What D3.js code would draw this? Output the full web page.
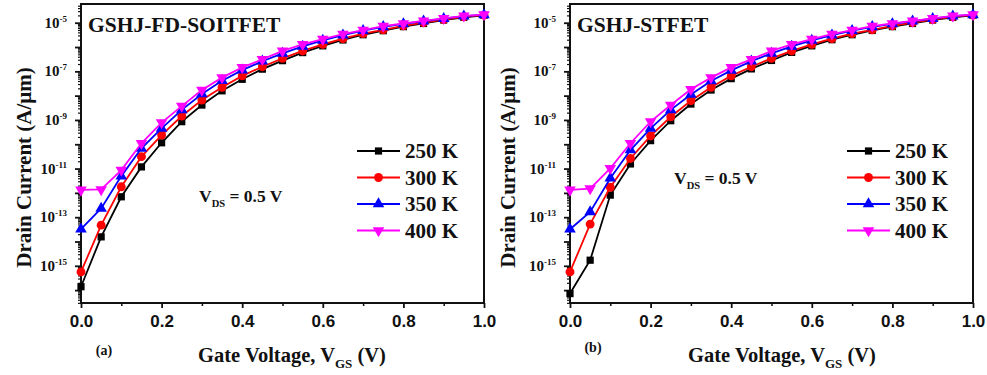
<!DOCTYPE html>
<html>
<head>
<meta charset="utf-8">
<script src="https://cdn.jsdelivr.net/npm/d3@7"></script>
<style>
  body { margin: 0; background: #fff; }
</style>
</head>
<body>
<svg id="chart" width="987" height="375" font-family="'Liberation Serif', 'Times New Roman', Times, 'DejaVu Serif', serif" font-weight="bold"></svg>
<script>
// Gate voltage sweep (V)
const gateVoltage = [0.00, 0.05, 0.10, 0.15, 0.20, 0.25, 0.30, 0.35, 0.40, 0.45, 0.50,
                     0.55, 0.60, 0.65, 0.70, 0.75, 0.80, 0.85, 0.90, 0.95, 1.00];
const temperatures = ["250 K", "300 K", "350 K", "400 K"];

// Drain current (A/um), GSHJ-FD-SOITFET
const soi250 = [1.38e-16, 1.55e-14, 6.9e-13, 1.17e-11, 1.15e-10, 8.5e-10, 4.1e-9, 1.58e-8, 4.7e-8, 1.23e-7, 2.75e-7,
                5.9e-7, 1.12e-6, 1.95e-6, 3.2e-6, 4.7e-6, 6.9e-6, 9.3e-6, 1.29e-5, 1.66e-5, 2.0e-5];
const soi300 = [5.6e-16, 4.7e-14, 1.78e-12, 3.1e-11, 2.4e-10, 1.45e-9, 6.6e-9, 2.2e-8, 6.5e-8, 1.55e-7, 3.4e-7,
                6.9e-7, 1.29e-6, 2.2e-6, 3.55e-6, 5.1e-6, 7.4e-6, 1.0e-5, 1.35e-5, 1.74e-5, 2.04e-5];
const soi350 = [3.2e-14, 2.3e-13, 4.9e-12, 6.8e-11, 4.5e-10, 2.6e-9, 1.17e-8, 4.1e-8, 1.12e-7, 2.6e-7, 5.5e-7,
                1.07e-6, 1.86e-6, 3.1e-6, 4.7e-6, 6.8e-6, 8.9e-6, 1.15e-5, 1.48e-5, 1.86e-5, 2.1e-5];
const soi400 = [1.32e-12, 1.38e-12, 8.7e-12, 1.1e-10, 7.8e-10, 3.7e-9, 1.7e-8, 5.5e-8, 1.45e-7, 3.1e-7, 6.9e-7,
                1.29e-6, 2.1e-6, 3.4e-6, 5.0e-6, 7.2e-6, 9.3e-6, 1.2e-5, 1.51e-5, 1.9e-5, 2.14e-5];

// Drain current (A/um), GSHJ-STFET
const st250 = [7.2e-17, 1.7e-15, 8.1e-13, 1.55e-11, 1.41e-10, 9.3e-10, 4.5e-9, 1.7e-8, 5.0e-8, 1.26e-7, 2.8e-7,
               6.0e-7, 1.12e-6, 2.0e-6, 3.2e-6, 4.8e-6, 6.9e-6, 9.3e-6, 1.29e-5, 1.66e-5, 2.0e-5];
const st300 = [5.6e-16, 5.2e-14, 1.7e-12, 2.6e-11, 2.2e-10, 1.35e-9, 6.2e-9, 2.2e-8, 6.5e-8, 1.55e-7, 3.4e-7,
               6.9e-7, 1.29e-6, 2.2e-6, 3.55e-6, 5.1e-6, 7.4e-6, 1.0e-5, 1.35e-5, 1.74e-5, 2.04e-5];
const st350 = [3.2e-14, 1.66e-13, 4.0e-12, 5.8e-11, 4.5e-10, 2.6e-9, 1.12e-8, 4.0e-8, 1.1e-7, 2.6e-7, 5.5e-7,
               1.07e-6, 1.86e-6, 3.1e-6, 4.7e-6, 6.8e-6, 8.9e-6, 1.15e-5, 1.48e-5, 1.86e-5, 2.1e-5];
const st400 = [1.32e-12, 1.51e-12, 1.02e-11, 1.1e-10, 8.5e-10, 4.1e-9, 1.82e-8, 5.5e-8, 1.45e-7, 3.1e-7, 6.9e-7,
               1.29e-6, 2.1e-6, 3.4e-6, 5.0e-6, 7.2e-6, 9.3e-6, 1.2e-5, 1.51e-5, 1.9e-5, 2.14e-5];

// Axis ticks
const xMajorTicks = [0.0, 0.2, 0.4, 0.6, 0.8, 1.0];
const xMinorTicks = [0.1, 0.3, 0.5, 0.7, 0.9];
const xTickLabels = ["0.0", "0.2", "0.4", "0.6", "0.8", "1.0"];
const yLabelExponents = [-15, -13, -11, -9, -7, -5];
const yDecadeExponents = [-16, -15, -14, -13, -12, -11, -10, -9, -8, -7, -6, -5];

const seriesColors = ["#000000", "#ff0000", "#0000ff", "#ff00ff"];
const seriesSymbols = [d3.symbolSquare, d3.symbolCircle, d3.symbolTriangle, d3.symbolTriangle];
const symbolSizes = [52, 62, 58, 58];
const symbolRotation = [0, 0, 0, 180];

const panels = [
  { title: "GSHJ-FD-SOITFET", tag: "(a)", series: [soi250, soi300, soi350, soi400],
    left: 81, right: 484, top: 4, bottom: 303,
    yLabelX: 31, tagX: 104, tagY: 355, xLabelX: 292,
    legendX: 357, vdsX: 199, vdsY: 202 },
  { title: "GSHJ-STFET", tag: "(b)", series: [st250, st300, st350, st400],
    left: 570, right: 973, top: 4, bottom: 303,
    yLabelX: 515, tagX: 593, tagY: 352, xLabelX: 782,
    legendX: 847, vdsX: 674, vdsY: 184 }
];

const ink = "#111";
const svg = d3.select("#chart");

panels.forEach(p => {
  const g = svg.append("g");
  const x = d3.scaleLinear().domain([0, 1]).range([p.left, p.right]);
  const y = d3.scaleLog().domain([Math.pow(10, -16.53), Math.pow(10, -4.23)]).range([p.bottom, p.top]);

  // minor log ticks (2..9 within each decade)
  const minorY = [];
  for (let e = -17; e <= -5; e++) {
    for (let m = 2; m <= 9; m++) {
      const v = m * Math.pow(10, e);
      if (v >= y.domain()[0] && v <= y.domain()[1]) minorY.push(v);
    }
  }

  // y axis: decade ticks, minor ticks, labels
  g.append("g").attr("transform", `translate(${p.left},0)`)
    .call(d3.axisLeft(y).tickValues(minorY).tickSize(3).tickFormat(""))
    .call(a => a.select(".domain").remove())
    .call(a => a.selectAll("line").attr("stroke", ink).attr("stroke-width", 1.2));
  g.append("g").attr("transform", `translate(${p.left},0)`)
    .call(d3.axisLeft(y).tickValues(yDecadeExponents.map(e => Math.pow(10, e))).tickSize(6).tickFormat(""))
    .call(a => a.select(".domain").remove())
    .call(a => a.selectAll("line").attr("stroke", ink).attr("stroke-width", 1.8));

  yLabelExponents.forEach(e => {
    const t = g.append("text")
      .attr("x", p.left - 14).attr("y", y(Math.pow(10, e)) + 5)
      .attr("text-anchor", "end").attr("font-size", 15).attr("fill", ink);
    t.append("tspan").text("10");
    t.append("tspan").attr("font-size", 9).attr("dy", -6).text(String(e));
  });

  // x axis
  g.append("g").attr("transform", `translate(0,${p.bottom})`)
    .call(d3.axisBottom(x).tickValues(xMinorTicks).tickSize(3).tickFormat(""))
    .call(a => a.select(".domain").remove())
    .call(a => a.selectAll("line").attr("stroke", ink).attr("stroke-width", 1.5));
  g.append("g").attr("transform", `translate(0,${p.bottom})`)
    .call(d3.axisBottom(x).tickValues(xMajorTicks).tickSize(5)
      .tickFormat((d, i) => xTickLabels[i]))
    .call(a => a.select(".domain").remove())
    .call(a => a.selectAll("line").attr("stroke", ink).attr("stroke-width", 1.8))
    .call(a => a.selectAll("text").attr("font-size", 17).attr("dy", "0.95em")
      .attr("font-family", null).attr("fill", ink));

  // frame
  g.append("rect")
    .attr("x", p.left).attr("y", p.top)
    .attr("width", p.right - p.left).attr("height", p.bottom - p.top)
    .attr("fill", "none").attr("stroke", ink).attr("stroke-width", 2);

  // curves
  const line = d3.line().x((d, i) => x(gateVoltage[i])).y(d => y(d));
  p.series.forEach((s, k) => {
    g.append("path").datum(s)
      .attr("d", line).attr("fill", "none")
      .attr("stroke", seriesColors[k]).attr("stroke-width", 1.8);
    g.selectAll(null).data(s).enter().append("path")
      .attr("d", d3.symbol().type(seriesSymbols[k]).size(symbolSizes[k]))
      .attr("transform", (d, i) => `translate(${x(gateVoltage[i])},${y(d)}) rotate(${symbolRotation[k]})`)
      .attr("fill", seriesColors[k]);
  });

  // panel title
  g.append("text").attr("x", p.left + 7).attr("y", 32)
    .attr("font-size", 21.5).attr("fill", ink).text(p.title);

  // legend
  temperatures.forEach((name, k) => {
    const ly = 151 + k * 26.5;
    g.append("line").attr("x1", p.legendX).attr("x2", p.legendX + 43)
      .attr("y1", ly).attr("y2", ly)
      .attr("stroke", seriesColors[k]).attr("stroke-width", 1.8);
    g.append("path")
      .attr("d", d3.symbol().type(seriesSymbols[k]).size(symbolSizes[k]))
      .attr("transform", `translate(${p.legendX + 21.5},${ly}) rotate(${symbolRotation[k]})`)
      .attr("fill", seriesColors[k]);
    g.append("text").attr("x", p.legendX + 48).attr("y", ly + 7)
      .attr("font-size", 21).attr("fill", ink).text(name);
  });

  // bias annotation
  const vds = g.append("text").attr("x", p.vdsX).attr("y", p.vdsY).attr("font-size", 17.5).attr("fill", ink);
  vds.append("tspan").text("V");
  vds.append("tspan").attr("font-size", 10.5).attr("dy", 5).text("DS");
  vds.append("tspan").attr("dy", -5).text(" = 0.5 V");

  // axis titles
  g.append("text")
    .attr("transform", `translate(${p.yLabelX},${(p.top + p.bottom) / 2 + 14}) rotate(-90)`)
    .attr("text-anchor", "middle").attr("font-size", 21).attr("fill", ink)
    .text("Drain Current (A/\u03bcm)");

  const xl = g.append("text").attr("x", p.xLabelX).attr("y", 362)
    .attr("text-anchor", "middle").attr("font-size", 20.5).attr("fill", ink);
  xl.append("tspan").text("Gate Voltage, V");
  xl.append("tspan").attr("font-size", 13).attr("dy", 6).text("GS");
  xl.append("tspan").attr("dy", -6).text(" (V)");

  g.append("text").attr("x", p.tagX).attr("y", p.tagY)
    .attr("text-anchor", "middle").attr("font-size", 14).attr("fill", ink).text(p.tag);
});
</script>
</body>
</html>
